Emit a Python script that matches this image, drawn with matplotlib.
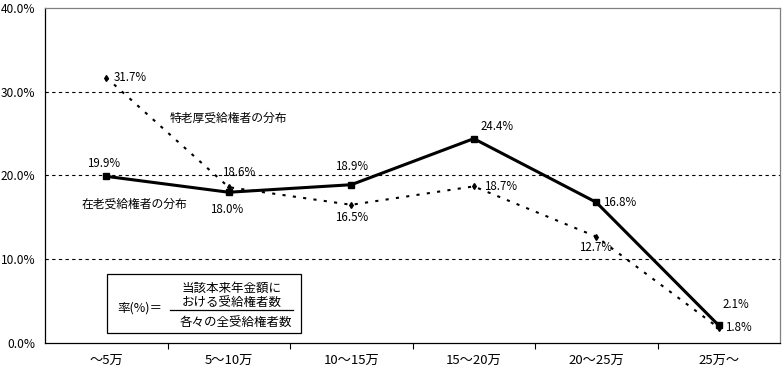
import matplotlib.pyplot as plt
from matplotlib.patches import Rectangle

plt.rcParams['font.family'] = ['Noto Sans CJK JP', 'DejaVu Sans']
plt.rcParams['font.size'] = 8

categories = ['～5万', '5～10万', '10～15万', '15～20万', '20～25万', '25万～']
zairo = [19.9, 18.0, 18.9, 24.4, 16.8, 2.1]      # 在老受給権者の分布
tokuro = [31.7, 18.6, 16.5, 18.7, 12.7, 1.8]     # 特老厚受給権者の分布

# label offsets in pixels (dx, dy, ha)
zairo_off = [(-3, 13, 'center'), (-2, -17, 'center'), (0, 18, 'center'),
             (7, 12, 'left'), (7, 0, 'left'), (4, 21, 'left')]
tokuro_off = [(7, 0, 'left'), (10, 15, 'center'), (0, -13, 'center'),
              (10, 0, 'left'), (-1, -11, 'center'), (6, 0, 'left')]

fig = plt.figure(figsize=(7.84, 3.69), dpi=100)
ax = fig.add_axes([45 / 784, 26 / 369, 735 / 784, 335 / 369])

x = range(len(categories))
ax.plot(x, zairo, color='black', lw=2.2, marker='s', ms=4.5, zorder=3)
ax.plot(x, tokuro, color='black', lw=1.5, ls=(0, (1.5, 3.5)),
        marker='d', ms=3, zorder=3)

for xi, v, (dx, dy, ha) in zip(x, zairo, zairo_off):
    ax.annotate(f'{v:.1f}%', (xi, v), xytext=(dx, dy), textcoords='offset pixels',
                ha=ha, va='center', fontsize=8.3)
for xi, v, (dx, dy, ha) in zip(x, tokuro, tokuro_off):
    ax.annotate(f'{v:.1f}%', (xi, v), xytext=(dx, dy), textcoords='offset pixels',
                ha=ha, va='center', fontsize=8.3)

ax.text(0.52, 26.9, '特老厚受給権者の分布', ha='left', va='center', fontsize=8.5)
ax.text(-0.2, 16.6, '在老受給権者の分布', ha='left', va='center', fontsize=8.5)

ax.set_xlim(-0.5, len(categories) - 0.5)
ax.set_ylim(0, 40)
ax.set_yticks([0, 10, 20, 30, 40])
ax.set_yticklabels([f'{t:.1f}%' for t in [0, 10, 20, 30, 40]])
ax.tick_params(axis='y', length=0, pad=7, labelsize=8.6)
ax.set_xticks(list(x))
ax.set_xticklabels(categories)
ax.tick_params(axis='x', which='major', length=0, pad=8, labelsize=9.5)
ax.set_xticks([i + 0.5 for i in range(len(categories) - 1)], minor=True)
ax.tick_params(axis='x', which='minor', length=4, width=0.8)

for g in [10, 20, 30]:
    ax.axhline(g, color='black', lw=0.8, ls=(0, (3, 3)), zorder=1)

ax.spines['top'].set_color('#808080')
ax.spines['right'].set_color('#808080')
for s in ax.spines.values():
    s.set_linewidth(0.9)

# formula box
ax.add_patch(Rectangle((0.0844, 0.030), 0.2636, 0.176, transform=ax.transAxes,
                       facecolor='white', edgecolor='black', lw=0.9, zorder=4))
ax.text(0.099, 0.1045, '率(%)＝', transform=ax.transAxes, ha='left', va='center',
        fontsize=9, zorder=5)
ax.text(0.254, 0.164, '当該本来年金額に', transform=ax.transAxes, ha='center', va='center',
        fontsize=9, zorder=5)
ax.text(0.254, 0.122, 'おける受給権者数', transform=ax.transAxes, ha='center', va='center',
        fontsize=9, zorder=5)
ax.plot([0.170, 0.337], [0.0985, 0.0985], transform=ax.transAxes, color='black', lw=0.9, zorder=5)
ax.text(0.260, 0.060, '各々の全受給権者数', transform=ax.transAxes, ha='center', va='center',
        fontsize=9, zorder=5)

fig.savefig('out.png', dpi=100)
